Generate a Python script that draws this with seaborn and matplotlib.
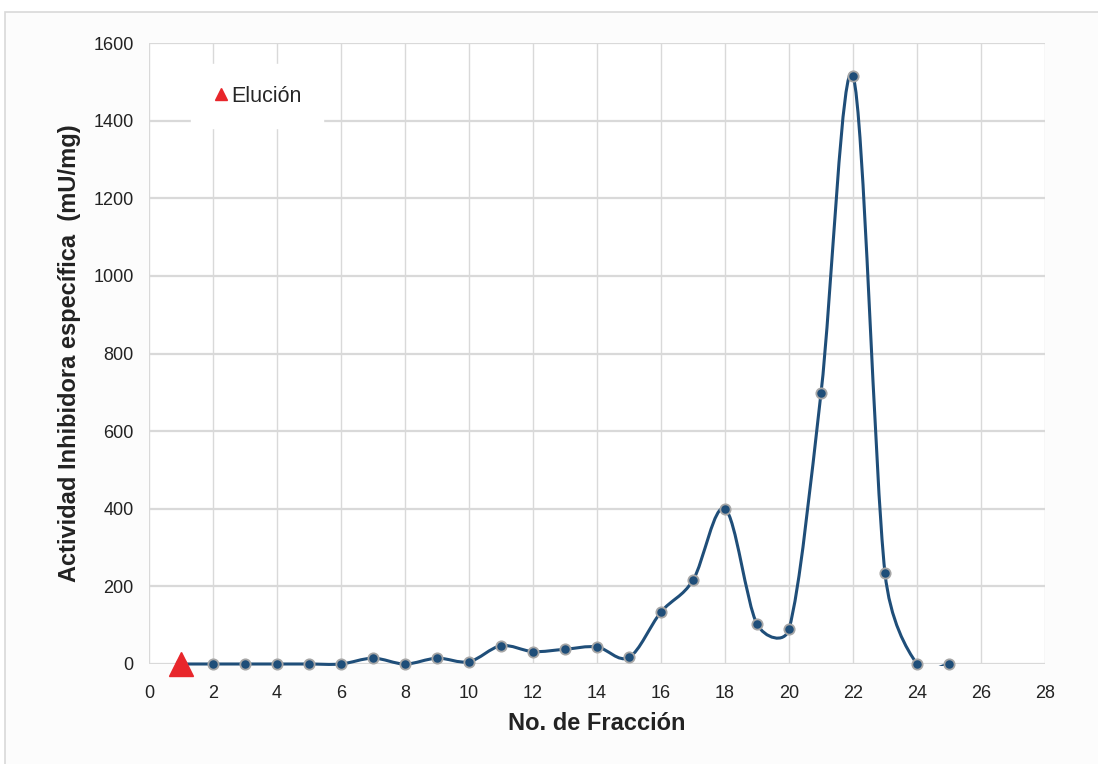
import numpy as np
import matplotlib
matplotlib.use("Agg")
import matplotlib.pyplot as plt
from matplotlib.path import Path
from matplotlib.patches import PathPatch, Rectangle
from matplotlib.lines import Line2D
import seaborn as sns
import pandas as pd

# Data
fraccion = [1, 2, 3, 4, 5, 6, 7, 8, 9, 10, 11, 12, 13, 14, 15, 16, 17, 18, 19, 20, 21, 22, 23, 24, 25]
actividad = [0, 0, 0, 0, 0, 0, 15, 0, 15, 6, 47, 32, 38, 44, 17, 134, 216, 400, 103, 90, 698, 1515, 234, 0, 0]
elucion_x = [1]
elucion_y = [0]
xticks = list(range(0, 29, 2))
yticks = list(range(0, 1601, 200))

sns.set_theme(style="whitegrid")
plt.rcParams['font.family'] = ['Liberation Sans', 'DejaVu Sans']

fig = plt.figure(figsize=(10.98, 7.64), dpi=100)
fig.patch.set_facecolor("white")
fig.add_artist(Rectangle((5 / 1098, -0.01), 1.1, 1 - 12 / 764 + 0.01, transform=fig.transFigure,
                         facecolor="#fcfcfc", edgecolor="#d9d9d9", lw=1.2, zorder=-5))
ax = fig.add_axes([149 / 1098, 1 - 664 / 764, (1045 - 149) / 1098, (664 - 43) / 764])
ax.set_facecolor("white")
ax.set_xlim(0, 28)
ax.set_ylim(0, 1600)

df = pd.DataFrame({"x": fraccion, "y": actividad})

# Spreadsheet-style smoothed line: Bezier segments, control length capped at half the segment
P = ax.transData.transform(np.column_stack([fraccion, actividad]).astype(float))
n = len(P)
verts = [P[0]]
codes = [Path.MOVETO]
for i in range(n - 1):
    p0 = P[max(i - 1, 0)]
    p1 = P[i]
    p2 = P[i + 1]
    p3 = P[min(i + 2, n - 1)]
    d12 = np.linalg.norm(p2 - p1)
    d02 = np.linalg.norm(p2 - p0)
    d13 = np.linalg.norm(p3 - p1)
    f1 = min(1 / 6, d12 / (2 * d02)) if d02 > 0 else 0
    f2 = min(1 / 6, d12 / (2 * d13)) if d13 > 0 else 0
    verts += [p1 + (p2 - p0) * f1, p2 - (p3 - p1) * f2, p2]
    codes += [Path.CURVE4] * 3
verts = ax.transData.inverted().transform(np.array(verts))
curve = PathPatch(Path(verts, codes), facecolor="none", edgecolor="#1f4e79", lw=2.2, zorder=3)
ax.add_patch(curve)
clip = Rectangle((0, -4), 28, 1610, transform=ax.transData)
curve.set_clip_path(clip)

sns.scatterplot(data=df, x="x", y="y", ax=ax, s=55, color="#1f4e79", edgecolor="#a6a6a6",
                linewidth=1.3, zorder=4, clip_on=False, legend=False)
ax.plot(elucion_x, elucion_y, marker="^", ms=17, color="#e8262b", ls="none", zorder=5, clip_on=False)

ax.set_xticks(xticks)
ax.set_yticks(yticks)
ax.grid(True, color="#d9d9d9", lw=1.0)
ax.grid(axis="y", lw=1.6)
for s in ax.spines.values():
    s.set_visible(False)
ax.tick_params(axis="both", labelsize=13, colors="#222222", length=0)
ax.tick_params(axis="x", pad=15)
ax.tick_params(axis="y", pad=11)

ax.set_xlabel("No. de Fracción", fontsize=17, fontweight="bold", color="#222222", labelpad=7)
ax.set_ylabel("Actividad Inhibidora específica  (mU/mg)", fontsize=17, fontweight="bold",
              color="#222222", labelpad=9)

handle = Line2D([], [], marker="^", ms=9, color="#e8262b", ls="none")
leg = ax.legend([handle], ["Elución"], loc="upper left", bbox_to_anchor=(0.047, 0.966),
                frameon=True, fontsize=15.5, handletextpad=0.05, borderpad=1.0,
                handlelength=0.8, fancybox=False, borderaxespad=0)
leg.get_frame().set_edgecolor("white")
leg.get_frame().set_facecolor("white")
leg.get_frame().set_alpha(1)

fig.savefig("out.png", dpi=100)
